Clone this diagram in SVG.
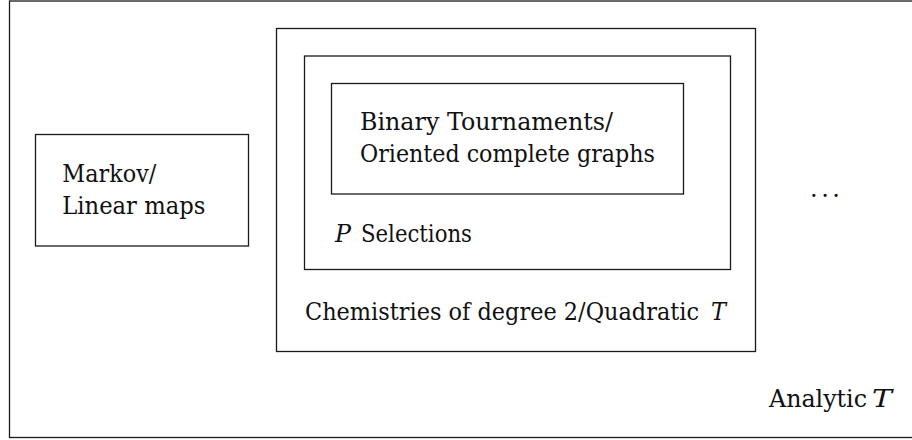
<svg xmlns="http://www.w3.org/2000/svg" width="912" height="440" viewBox="0 0 912 440">
<style>
.box{fill:none;stroke:#1a1a1a;stroke-width:1.3}
text{font-family:'DejaVu Serif','Liberation Serif',serif;font-size:24px;fill:#111}
.m{font-style:italic}
</style>
<rect width="912" height="440" fill="#fff"/>
<g id="analytic">
<rect class="box" x="9.5" y="1" width="920" height="436.5"/>
<text x="769" y="407" textLength="98" lengthAdjust="spacingAndGlyphs">Analytic</text>
<text class="m" x="872" y="407" textLength="20" lengthAdjust="spacingAndGlyphs">T</text>
<text x="810" y="196.5" textLength="30" lengthAdjust="spacing">. . .</text>
</g>
<g id="markov">
<rect class="box" x="35.5" y="134.5" width="213" height="111.5"/>
<text x="62.3" y="182" textLength="94" lengthAdjust="spacingAndGlyphs">Markov/</text>
<text x="62.3" y="213.5" textLength="143" lengthAdjust="spacingAndGlyphs">Linear maps</text>
</g>
<g id="chemistries">
<rect class="box" x="276.5" y="28.5" width="479" height="323"/>
<text x="305" y="320" textLength="394" lengthAdjust="spacingAndGlyphs">Chemistries of degree 2/Quadratic</text>
<text class="m" x="711" y="320" textLength="15" lengthAdjust="spacingAndGlyphs">T</text>
</g>
<g id="selections">
<rect class="box" x="304.5" y="56" width="426" height="213.5"/>
<text class="m" x="335" y="241.7" textLength="16" lengthAdjust="spacingAndGlyphs">P</text>
<text x="361" y="241.7" textLength="111" lengthAdjust="spacingAndGlyphs">Selections</text>
</g>
<g id="tournaments">
<rect class="box" x="331.5" y="83.5" width="352" height="110.5"/>
<text x="360" y="129.5" textLength="253" lengthAdjust="spacingAndGlyphs">Binary Tournaments/</text>
<text x="360" y="161.7" textLength="295" lengthAdjust="spacingAndGlyphs">Oriented complete graphs</text>
</g>
<g id="connectors"></g>
</svg>
